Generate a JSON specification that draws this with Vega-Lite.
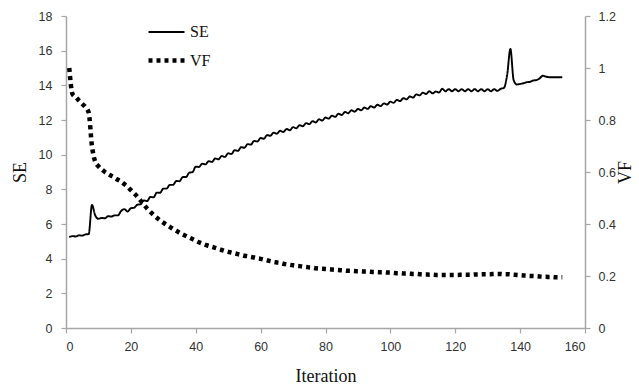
{
  "$schema": "https://vega.github.io/schema/vega-lite/v6.json",
  "autosize": "none",
  "width": 519,
  "height": 312,
  "padding": {"left": 66, "top": 16, "right": 54, "bottom": 60},
  "background": "white",
  "config": {
    "view": {"stroke": null},
    "axis": {
      "grid": false,
      "domainColor": "#a6a6a6",
      "domainWidth": 1.5,
      "tickColor": "#a6a6a6",
      "tickWidth": 1.2,
      "tickSize": 5,
      "labelFont": "Liberation Sans",
      "labelFontSize": 12.5,
      "labelColor": "#333333",
      "titleFont": "Liberation Serif",
      "titleFontSize": 18,
      "titleFontWeight": "normal",
      "titleColor": "#111111",
      "titleAlign": "center",
      "titleBaseline": "middle"
    },
    "legend": {
      "orient": "none",
      "legendX": 80,
      "legendY": -3,
      "title": null,
      "symbolType": "stroke",
      "symbolSize": 1296,
      "symbolStrokeColor": "black",
      "labelFont": "Liberation Serif",
      "labelFontSize": 16,
      "labelColor": "#111111",
      "labelOffset": 3,
      "rowPadding": -5
    }
  },
  "data": {
    "values": [
      {"i":1,"SE":5.25,"VF":1.0},{"i":2,"SE":5.3,"VF":0.9},{"i":3,"SE":5.28,"VF":0.888},{"i":4,"SE":5.35,"VF":0.875},
      {"i":5,"SE":5.33,"VF":0.862},{"i":6,"SE":5.4,"VF":0.85},{"i":7,"SE":5.42,"VF":0.828},{"i":8,"SE":7.1,"VF":0.7},
      {"i":9,"SE":6.5,"VF":0.64},{"i":10,"SE":6.3,"VF":0.622},{"i":11,"SE":6.35,"VF":0.61},{"i":12,"SE":6.33,"VF":0.6},
      {"i":13,"SE":6.45,"VF":0.592},{"i":14,"SE":6.43,"VF":0.585},{"i":15,"SE":6.5,"VF":0.578},{"i":16,"SE":6.5,"VF":0.57},
      {"i":17,"SE":6.75,"VF":0.563},{"i":18,"SE":6.86,"VF":0.553},{"i":19,"SE":6.72,"VF":0.543},{"i":20,"SE":6.91,"VF":0.53},
      {"i":21,"SE":6.94,"VF":0.518},{"i":22,"SE":7.11,"VF":0.505},{"i":23,"SE":7.14,"VF":0.49},{"i":24,"SE":7.36,"VF":0.475},
      {"i":25,"SE":7.32,"VF":0.46},{"i":26,"SE":7.56,"VF":0.447},{"i":27,"SE":7.54,"VF":0.435},{"i":28,"SE":7.81,"VF":0.424},
      {"i":29,"SE":7.8,"VF":0.414},{"i":30,"SE":8.04,"VF":0.405},{"i":31,"SE":8.04,"VF":0.397},{"i":32,"SE":8.26,"VF":0.389},
      {"i":33,"SE":8.26,"VF":0.381},{"i":34,"SE":8.48,"VF":0.374},{"i":35,"SE":8.47,"VF":0.366},{"i":36,"SE":8.71,"VF":0.36},
      {"i":37,"SE":8.71,"VF":0.354},{"i":38,"SE":8.96,"VF":0.348},{"i":39,"SE":8.99,"VF":0.342},{"i":40,"SE":9.31,"VF":0.336},
      {"i":41,"SE":9.29,"VF":0.33},{"i":42,"SE":9.48,"VF":0.325},{"i":43,"SE":9.44,"VF":0.32},{"i":44,"SE":9.63,"VF":0.316},
      {"i":45,"SE":9.58,"VF":0.312},{"i":46,"SE":9.78,"VF":0.308},{"i":47,"SE":9.73,"VF":0.304},{"i":48,"SE":9.92,"VF":0.3},
      {"i":49,"SE":9.87,"VF":0.296},{"i":50,"SE":10.08,"VF":0.293},{"i":51,"SE":10.04,"VF":0.29},{"i":52,"SE":10.26,"VF":0.287},
      {"i":53,"SE":10.22,"VF":0.284},{"i":54,"SE":10.43,"VF":0.281},{"i":55,"SE":10.4,"VF":0.278},{"i":56,"SE":10.61,"VF":0.276},
      {"i":57,"SE":10.58,"VF":0.273},{"i":58,"SE":10.79,"VF":0.271},{"i":59,"SE":10.76,"VF":0.268},{"i":60,"SE":10.96,"VF":0.266},
      {"i":61,"SE":10.92,"VF":0.263},{"i":62,"SE":11.13,"VF":0.26},{"i":63,"SE":11.09,"VF":0.257},{"i":64,"SE":11.27,"VF":0.254},
      {"i":65,"SE":11.21,"VF":0.252},{"i":66,"SE":11.38,"VF":0.25},{"i":67,"SE":11.31,"VF":0.247},{"i":68,"SE":11.48,"VF":0.245},
      {"i":69,"SE":11.41,"VF":0.243},{"i":70,"SE":11.59,"VF":0.241},{"i":71,"SE":11.52,"VF":0.239},{"i":72,"SE":11.7,"VF":0.238},
      {"i":73,"SE":11.64,"VF":0.236},{"i":74,"SE":11.82,"VF":0.235},{"i":75,"SE":11.76,"VF":0.233},{"i":76,"SE":11.93,"VF":0.232},
      {"i":77,"SE":11.86,"VF":0.23},{"i":78,"SE":12.04,"VF":0.229},{"i":79,"SE":11.97,"VF":0.228},{"i":80,"SE":12.14,"VF":0.227},
      {"i":81,"SE":12.08,"VF":0.226},{"i":82,"SE":12.25,"VF":0.225},{"i":83,"SE":12.18,"VF":0.224},{"i":84,"SE":12.36,"VF":0.223},
      {"i":85,"SE":12.29,"VF":0.222},{"i":86,"SE":12.46,"VF":0.221},{"i":87,"SE":12.39,"VF":0.22},{"i":88,"SE":12.56,"VF":0.22},
      {"i":89,"SE":12.48,"VF":0.219},{"i":90,"SE":12.64,"VF":0.218},{"i":91,"SE":12.56,"VF":0.218},{"i":92,"SE":12.72,"VF":0.217},
      {"i":93,"SE":12.64,"VF":0.217},{"i":94,"SE":12.8,"VF":0.216},{"i":95,"SE":12.72,"VF":0.215},{"i":96,"SE":12.88,"VF":0.215},
      {"i":97,"SE":12.8,"VF":0.214},{"i":98,"SE":12.96,"VF":0.214},{"i":99,"SE":12.89,"VF":0.213},{"i":100,"SE":13.06,"VF":0.213},
      {"i":101,"SE":12.99,"VF":0.212},{"i":102,"SE":13.16,"VF":0.211},{"i":103,"SE":13.09,"VF":0.211},{"i":104,"SE":13.26,"VF":0.21},
      {"i":105,"SE":13.19,"VF":0.21},{"i":106,"SE":13.36,"VF":0.209},{"i":107,"SE":13.29,"VF":0.208},{"i":108,"SE":13.48,"VF":0.208},
      {"i":109,"SE":13.42,"VF":0.207},{"i":110,"SE":13.58,"VF":0.206},{"i":111,"SE":13.5,"VF":0.206},{"i":112,"SE":13.66,"VF":0.205},
      {"i":113,"SE":13.54,"VF":0.205},{"i":114,"SE":13.64,"VF":0.204},{"i":115,"SE":13.59,"VF":0.204},{"i":116,"SE":13.8,"VF":0.204},
      {"i":117,"SE":13.66,"VF":0.204},{"i":118,"SE":13.78,"VF":0.204},{"i":119,"SE":13.66,"VF":0.204},{"i":120,"SE":13.78,"VF":0.204},
      {"i":121,"SE":13.66,"VF":0.204},{"i":122,"SE":13.78,"VF":0.205},{"i":123,"SE":13.66,"VF":0.205},{"i":124,"SE":13.78,"VF":0.205},
      {"i":125,"SE":13.66,"VF":0.205},{"i":126,"SE":13.78,"VF":0.206},{"i":127,"SE":13.66,"VF":0.206},{"i":128,"SE":13.78,"VF":0.206},
      {"i":129,"SE":13.66,"VF":0.207},{"i":130,"SE":13.78,"VF":0.207},{"i":131,"SE":13.66,"VF":0.207},{"i":132,"SE":13.78,"VF":0.208},
      {"i":133,"SE":13.68,"VF":0.208},{"i":134,"SE":13.8,"VF":0.208},{"i":135,"SE":13.85,"VF":0.207},{"i":136,"SE":14.6,"VF":0.207},
      {"i":137,"SE":16.1,"VF":0.206},{"i":138,"SE":14.3,"VF":0.205},{"i":139,"SE":14.05,"VF":0.204},{"i":140,"SE":14.08,"VF":0.203},
      {"i":141,"SE":14.12,"VF":0.202},{"i":142,"SE":14.18,"VF":0.201},{"i":143,"SE":14.2,"VF":0.2},{"i":144,"SE":14.28,"VF":0.2},
      {"i":145,"SE":14.3,"VF":0.199},{"i":146,"SE":14.4,"VF":0.198},{"i":147,"SE":14.55,"VF":0.197},{"i":148,"SE":14.5,"VF":0.197},
      {"i":149,"SE":14.47,"VF":0.196},{"i":150,"SE":14.47,"VF":0.196},{"i":151,"SE":14.47,"VF":0.195},{"i":152,"SE":14.47,"VF":0.195},
      {"i":153,"SE":14.47,"VF":0.195}
    ]
  },
  "transform": [{"fold": ["SE", "VF"], "as": ["series", "value"]}],
  "layer": [
    {
      "transform": [{"filter": {"field": "series", "equal": "SE"}}],
      "mark": {"type": "line", "color": "black", "interpolate": "monotone", "strokeCap": "butt"},
      "encoding": {
        "x": {"field": "i", "type": "quantitative", "scale": {"domain": [0, 160]},
          "axis": {"values": [0,20,40,60,80,100,120,140,160], "title": "Iteration", "labelPadding": 7, "titleX": 259.5, "titleY": 48}},
        "y": {"field": "value", "type": "quantitative", "scale": {"domain": [0, 18]},
          "axis": {"orient": "left", "values": [0,2,4,6,8,10,12,14,16,18], "title": "SE", "labelPadding": 9, "titleAngle": -90, "titleX": -46, "titleY": 156}},
        "strokeDash": {"field": "series", "type": "nominal", "scale": {"domain": ["SE", "VF"], "range": [[1, 0], [4, 4]]}},
        "strokeWidth": {"field": "series", "type": "nominal", "scale": {"domain": ["SE", "VF"], "range": [1.9, 4.5]}}
      }
    },
    {
      "transform": [{"filter": {"field": "series", "equal": "VF"}}],
      "mark": {"type": "line", "color": "black", "interpolate": "monotone", "strokeCap": "butt"},
      "encoding": {
        "x": {"field": "i", "type": "quantitative"},
        "y": {"field": "value", "type": "quantitative", "scale": {"domain": [0, 1.2]},
          "axis": {"orient": "right", "values": [0,0.2,0.4,0.6,0.8,1,1.2], "format": "~g", "title": "VF", "titleAngle": -90, "labelPadding": 8, "titleX": 40, "titleY": 156}},
        "strokeDash": {"field": "series", "type": "nominal"},
        "strokeWidth": {"field": "series", "type": "nominal"}
      }
    }
  ],
  "resolve": {"scale": {"y": "independent"}}
}
